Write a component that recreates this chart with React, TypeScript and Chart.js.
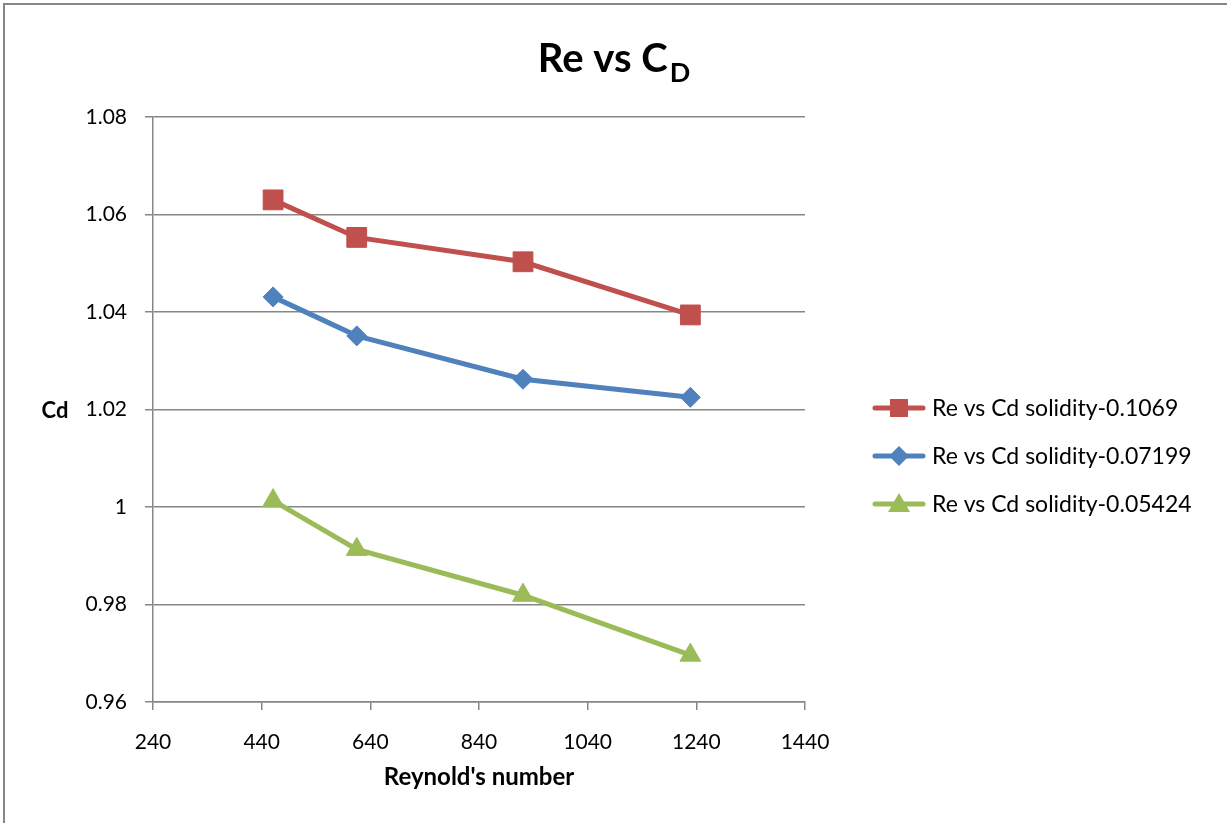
import React, { useEffect, useRef } from "react";
import { Chart, registerables } from "chart.js";

Chart.register(...registerables);

const reynoldsNumbers = [461, 615, 921, 1229];
const cdSolidity1069 = [1.063, 1.0553, 1.0503, 1.0394];
const cdSolidity07199 = [1.0431, 1.0351, 1.0262, 1.0225];
const cdSolidity05424 = [1.0013, 0.9913, 0.9819, 0.9696];

const seriesNames = [
  "Re vs Cd solidity-0.1069",
  "Re vs Cd solidity-0.07199",
  "Re vs Cd solidity-0.05424",
];
const seriesColors = ["#C0504D", "#4F81BD", "#9BBB59"];
const seriesMarkers = ["rect", "rectRot", "triangle"];
const seriesRadii = [14, 10, 12];

const xTickLabels = ["240", "440", "640", "840", "1040", "1240", "1440"];
const yTickLabels = ["0.96", "0.98", "1", "1.02", "1.04", "1.06", "1.08"];

const titleMain = "Re vs C";
const titleSub = "D";
const xAxisTitle = "Reynold's number";
const yAxisTitle = "Cd";

const FONT = "Lato, 'Open Sans', sans-serif";

const decorPlugin = {
  id: "decor",
  beforeDraw(chart: any) {
    const ctx = chart.ctx;
    ctx.save();
    ctx.fillStyle = "#ffffff";
    ctx.fillRect(0, 0, chart.width, chart.height);
    ctx.fillStyle = "#878787";
    ctx.fillRect(3, 3, chart.width - 3, 2);
    ctx.fillRect(3, 3, 2, chart.height - 3);
    ctx.restore();
  },
  afterDraw(chart: any) {
    const ctx = chart.ctx;
    ctx.save();
    // title
    ctx.fillStyle = "#000";
    ctx.textBaseline = "alphabetic";
    ctx.font = `bold 40px ${FONT}`;
    const wMain = ctx.measureText(titleMain).width;
    ctx.font = `bold 27px ${FONT}`;
    const wSub = ctx.measureText(titleSub).width;
    const total = wMain + 2 + wSub;
    const startX = 614 - total / 2;
    ctx.font = `bold 40px ${FONT}`;
    ctx.textAlign = "left";
    ctx.fillText(titleMain, startX, 72);
    ctx.font = `bold 27px ${FONT}`;
    ctx.fillText(titleSub, startX + wMain + 2, 82);

    // axis titles
    ctx.textAlign = "center";
    ctx.textBaseline = "middle";
    ctx.font = `bold 22px ${FONT}`;
    ctx.fillText(yAxisTitle, 55, 411);
    ctx.font = `bold 24px ${FONT}`;
    ctx.fillText(xAxisTitle, 479, 777);

    // legend
    const rows = [408, 456, 504];
    seriesNames.forEach((name, i) => {
      const y = rows[i];
      const color = seriesColors[i];
      ctx.strokeStyle = color;
      ctx.fillStyle = color;
      ctx.lineWidth = 5;
      ctx.lineCap = "round";
      ctx.beginPath();
      ctx.moveTo(875, y);
      ctx.lineTo(923, y);
      ctx.stroke();
      const cx = 899;
      ctx.beginPath();
      if (seriesMarkers[i] === "rect") {
        ctx.rect(cx - 9, y - 9, 18, 18);
      } else if (seriesMarkers[i] === "rectRot") {
        ctx.moveTo(cx - 10, y);
        ctx.lineTo(cx, y - 10);
        ctx.lineTo(cx + 10, y);
        ctx.lineTo(cx, y + 10);
        ctx.closePath();
      } else {
        ctx.moveTo(cx, y - 11);
        ctx.lineTo(cx + 11, y + 8);
        ctx.lineTo(cx - 11, y + 8);
        ctx.closePath();
      }
      ctx.fill();
      ctx.fillStyle = "#000";
      ctx.font = `23px ${FONT}`;
      ctx.textAlign = "left";
      ctx.textBaseline = "middle";
      ctx.fillText(name, 932, y + 1);
    });
    ctx.restore();
  },
};

export default function App() {
  const canvasRef = useRef<HTMLCanvasElement | null>(null);

  useEffect(() => {
    document.body.style.margin = "0";
    const canvas = canvasRef.current;
    if (!canvas) return;
    const series = [cdSolidity1069, cdSolidity07199, cdSolidity05424];
    const chart = new Chart(canvas, {
      type: "line",
      data: {
        datasets: series.map((vals, i) => ({
          label: seriesNames[i],
          data: vals.map((v, j) => ({ x: reynoldsNumbers[j], y: v })),
          borderColor: seriesColors[i],
          backgroundColor: seriesColors[i],
          pointBackgroundColor: seriesColors[i],
          pointBorderColor: seriesColors[i],
          pointStyle: seriesMarkers[i] as any,
          pointRadius: seriesRadii[i],
          pointBorderWidth: 1,
          borderWidth: 5,
          tension: 0,
          fill: false,
        })),
      },
      options: {
        responsive: false,
        animation: false,
        events: [],
        layout: { padding: { left: 0, top: 117, right: 422, bottom: 0 } },
        plugins: {
          legend: { display: false },
          title: { display: false },
          tooltip: { enabled: false },
        },
        scales: {
          x: {
            type: "linear",
            min: 240,
            max: 1440,
            afterFit: (s: any) => {
              s.height = 121;
            },
            afterBuildTicks: (s: any) => {
              s.ticks = xTickLabels.map((t) => ({ value: Number(t) }));
            },
            ticks: {
              font: { family: FONT, size: 21 },
              color: "#000",
              padding: 20,
              maxRotation: 0,
              autoSkip: false,
              callback: (v: any) => {
                const lbl = xTickLabels.find((t) => Number(t) === Number(v));
                return lbl ?? "";
              },
            },
            grid: {
              drawOnChartArea: false,
              drawTicks: true,
              tickLength: 8,
              color: "#868686",
              lineWidth: 1.5,
            },
            border: { color: "#868686", width: 1.5 },
          },
          y: {
            type: "linear",
            min: 0.96,
            max: 1.08,
            afterFit: (s: any) => {
              s.width = 153;
            },
            afterBuildTicks: (s: any) => {
              s.ticks = yTickLabels.map((t) => ({ value: Number(t) }));
            },
            ticks: {
              font: { family: FONT, size: 21 },
              color: "#000",
              padding: 18,
              autoSkip: false,
              callback: (v: any) => {
                const lbl = yTickLabels.find(
                  (t) => Math.round(Number(t) * 100) === Math.round(Number(v) * 100)
                );
                return lbl ?? "";
              },
            },
            grid: {
              drawOnChartArea: true,
              drawTicks: true,
              tickLength: 8,
              color: "#868686",
              lineWidth: 1.5,
            },
            border: { color: "#868686", width: 1.5 },
          },
        },
      },
      plugins: [decorPlugin],
    });
    return () => chart.destroy();
  }, []);

  return (
    <div style={{ position: "absolute", left: 0, top: 0, width: 1227, height: 823 }}>
      <canvas ref={canvasRef} width={1227} height={823} />
    </div>
  );
}
